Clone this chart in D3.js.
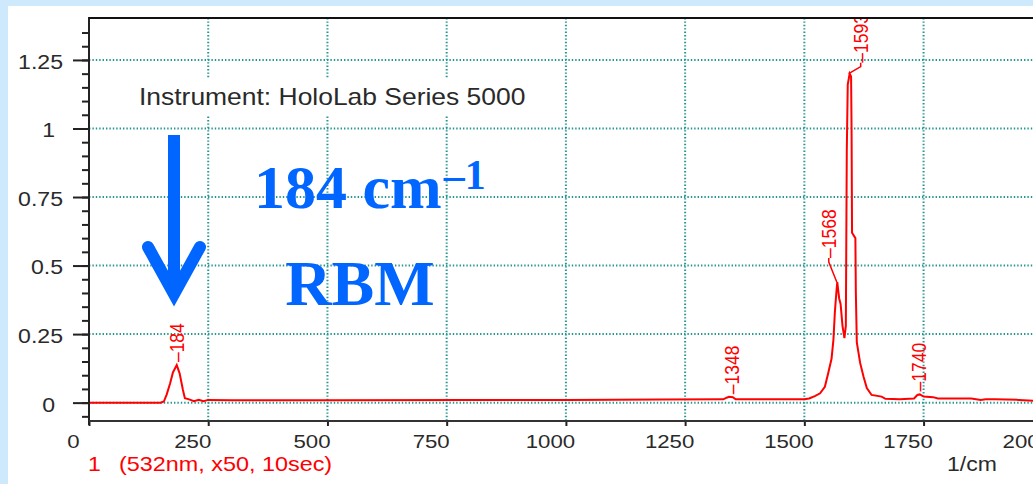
<!DOCTYPE html>
<html>
  <head>
    <title>Raman spectrum</title>
    <script type="text/javascript" src="https://cdnjs.cloudflare.com/ajax/libs/d3/7.8.5/d3.min.js"></script>
    <style type="text/css">
      body { margin: 0; }
      svg { display: block; }
      .lbl { font-family: "Liberation Sans", Arial, sans-serif; }
    </style>
  </head>
  <body>
  <script type="text/javascript">

  // spectrum: wavenumber (1/cm) and intensity
  var wavenumbers = [0, 150, 157, 163, 170, 176, 184, 190, 197, 201, 210, 220, 230, 240, 250, 300, 500, 800,
    1000, 1200, 1330, 1337, 1342, 1350, 1356, 1400, 1500, 1510, 1522, 1533, 1543, 1550, 1557, 1561, 1564,
    1567, 1569, 1573, 1576, 1580, 1584, 1587, 1589, 1591, 1595, 1598, 1599, 1600, 1607, 1608, 1610, 1617,
    1624, 1631, 1641, 1662, 1670, 1700, 1730, 1737, 1742, 1750, 1770, 1780, 1850, 1870, 1880, 1900, 1950,
    1990, 2000, 2010];
  var intensity = [0, 0, 0.004, 0.03, 0.07, 0.11, 0.137, 0.107, 0.046, 0.016, 0.012, 0.005, 0.01, 0.005, 0.01,
    0.009, 0.009, 0.01, 0.01, 0.011, 0.012, 0.018, 0.021, 0.02, 0.012, 0.012, 0.012, 0.015, 0.024, 0.034,
    0.058, 0.107, 0.16, 0.23, 0.33, 0.40, 0.44, 0.38, 0.36, 0.28, 0.235, 0.28, 0.92, 1.16, 1.20, 1.19, 1.0,
    0.62, 0.60, 0.40, 0.22, 0.145, 0.095, 0.053, 0.028, 0.022, 0.014, 0.012, 0.015, 0.028, 0.03, 0.022, 0.02,
    0.015, 0.015, 0.01, 0.012, 0.012, 0.01, 0.006, 0.012, 0.01];

  var peaks = [184, 1348, 1568, 1593, 1740];
  var xTicks = [0, 250, 500, 750, 1000, 1250, 1500, 1750, 2000];
  var yTicks = [0, 0.25, 0.5, 0.75, 1, 1.25];

  var W = 1033, H = 484;
  var pLeft = 89, pTop = 18, pBottom = 421;

  var x = d3.scaleLinear().domain([0, 2000]).range([pLeft, 1042.8]);
  var y = d3.scaleLinear().domain([-0.067, 1.403]).range([pBottom, pTop]);

  var svg = d3.select('body').append('svg')
    .attr('width', W).attr('height', H);

  svg.append('rect').attr('width', W).attr('height', H).attr('fill', '#cde9fb');
  svg.append('rect').attr('x', 8).attr('y', 6).attr('width', W - 8).attr('height', H - 6).attr('fill', '#fff');

  svg.append('clipPath').attr('id', 'plot')
    .append('rect').attr('x', pLeft).attr('y', pTop).attr('width', W - pLeft).attr('height', pBottom - pTop);

  // grid
  var grid = svg.append('g').attr('stroke', '#24978f').attr('stroke-width', 2).attr('stroke-dasharray', '1.4,2');
  grid.selectAll('.v').data(xTicks.slice(1)).enter().append('line')
    .attr('x1', function(d) { return x(d); }).attr('x2', function(d) { return x(d); })
    .attr('y1', pTop).attr('y2', pBottom);
  grid.selectAll('.h').data(yTicks).enter().append('line')
    .attr('x1', pLeft).attr('x2', W)
    .attr('y1', function(d) { return y(d); }).attr('y2', function(d) { return y(d); });

  // instrument note with its white box
  svg.append('rect').attr('x', 128).attr('y', 78).attr('width', 412).attr('height', 38).attr('fill', '#fff');
  svg.append('text').attr('class', 'lbl')
    .attr('transform', 'translate(139,105) scale(1.15,1)')
    .attr('font-size', 23).attr('fill', '#2a2a2a')
    .text('Instrument: HoloLab Series 5000');

  // spectrum
  var pts = wavenumbers.map(function(w, i) { return [w, intensity[i]]; });
  var line = d3.line().x(function(d) { return x(d[0]); }).y(function(d) { return y(d[1]); });
  var plot = svg.append('g').attr('clip-path', 'url(#plot)');
  plot.append('path').datum(pts)
    .attr('d', line).attr('fill', 'none').attr('stroke', '#ff0000').attr('stroke-width', 2);

  // peak labels
  var nudge = { 1568: [-8, -24], 1593: [12, -11] };
  peaks.forEach(function(p) {
    var near = pts.filter(function(d) { return Math.abs(d[0] - p) <= 5; });
    var peakTop = d3.max(near, function(d) { return d[1]; });
    var px = x(p), py = y(peakTop);
    var n = nudge[p] || [0, -3];
    var lx = px + n[0], ly = py + n[1];
    if (nudge[p]) {
      plot.append('path')
        .attr('d', 'M' + px + ',' + py + 'L' + lx + ',' + (ly + 4) + 'L' + lx + ',' + ly)
        .attr('fill', 'none').attr('stroke', '#ff0000').attr('stroke-width', 1.5);
    }
    plot.append('text').attr('class', 'lbl')
      .attr('transform', 'translate(' + lx + ',' + ly + ') rotate(-90) scale(1,1.12)')
      .attr('dy', '0.35em').attr('font-size', 17.5).attr('fill', '#ff0000')
      .text('\u2013' + p);
  });

  // y axis
  svg.append('g').attr('transform', 'translate(' + pLeft + ',0)')
    .call(d3.axisLeft(y).tickValues(d3.range(-0.05, 1.4, 0.05)).tickSize(7).tickFormat('').tickSizeOuter(0))
    .call(function(g) { g.select('.domain').remove(); g.selectAll('line').attr('stroke', '#222').attr('stroke-width', 2); });
  var ya = svg.append('g').attr('transform', 'translate(' + pLeft + ',0)')
    .call(d3.axisLeft(y).tickValues(yTicks).tickSize(16).tickFormat(function(d) { return String(d); }));
  ya.select('.domain').remove();
  ya.selectAll('line').attr('stroke', '#222').attr('stroke-width', 2);
  ya.selectAll('text').attr('class', 'lbl').attr('font-size', 21).attr('fill', '#2a2a2a')
    .attr('x', function(d) { return (String(d).indexOf('.') < 0 ? -34 : -26) / 1.1; })
    .attr('dy', '0.4em').attr('transform', 'scale(1.1,1)');

  // x axis
  var xa = svg.append('g').attr('transform', 'translate(0,' + pBottom + ')')
    .call(d3.axisBottom(x).tickValues(xTicks).tickSize(5).tickFormat(d3.format('d')));
  xa.select('.domain').remove();
  xa.selectAll('line').attr('stroke', '#222').attr('stroke-width', 2);
  xa.selectAll('text').attr('class', 'lbl').attr('font-size', 19).attr('fill', '#2a2a2a')
    .attr('x', -16 / 1.17).attr('y', 27).attr('dy', 0).attr('transform', 'scale(1.17,1)');

  // frame lines
  svg.append('line').attr('x1', pLeft).attr('x2', pLeft).attr('y1', pTop - 1).attr('y2', pBottom + 4)
    .attr('stroke', '#222').attr('stroke-width', 2);
  svg.append('line').attr('x1', pLeft).attr('x2', W).attr('y1', pBottom).attr('y2', pBottom)
    .attr('stroke', '#333').attr('stroke-width', 2);
  svg.append('line').attr('x1', pLeft).attr('x2', W).attr('y1', pTop).attr('y2', pTop)
    .attr('stroke', '#111').attr('stroke-width', 2);

  // footer texts
  svg.append('text').attr('class', 'lbl').attr('transform', 'translate(88,471) scale(1.15,1)')
    .attr('font-size', 20).attr('fill', '#ff0000').text('1');
  svg.append('text').attr('class', 'lbl').attr('transform', 'translate(119,471) scale(1.17,1)')
    .attr('font-size', 20).attr('fill', '#ff0000').text('(532nm, x50, 10sec)');
  svg.append('text').attr('class', 'lbl').attr('transform', 'translate(947,471) scale(1.15,1)')
    .attr('font-size', 20).attr('fill', '#2a2a2a').text('1/cm');

  // blue annotation
  var blue = '#0066ff';
  svg.append('line').attr('x1', 174).attr('x2', 174).attr('y1', 135).attr('y2', 292)
    .attr('stroke', blue).attr('stroke-width', 12);
  svg.append('path').attr('d', 'M148,247L174,294L200,247')
    .attr('fill', 'none').attr('stroke', blue).attr('stroke-width', 12)
    .attr('stroke-linecap', 'round').attr('stroke-linejoin', 'miter');
  var t = svg.append('text').attr('x', 254).attr('y', 208)
    .attr('font-family', '"Liberation Serif", "Times New Roman", serif').attr('font-weight', 'bold')
    .attr('font-size', 62).attr('fill', blue);
  t.append('tspan').text('184 cm');
  t.append('tspan').attr('font-size', 42).attr('dy', -19).attr('dx', 2).text('\u20131');
  svg.append('text').attr('x', 360).attr('y', 305).attr('text-anchor', 'middle')
    .attr('font-family', '"Liberation Serif", "Times New Roman", serif').attr('font-weight', 'bold')
    .attr('font-size', 64).attr('fill', blue).text('RBM');

  </script>
  </body>
</html>
